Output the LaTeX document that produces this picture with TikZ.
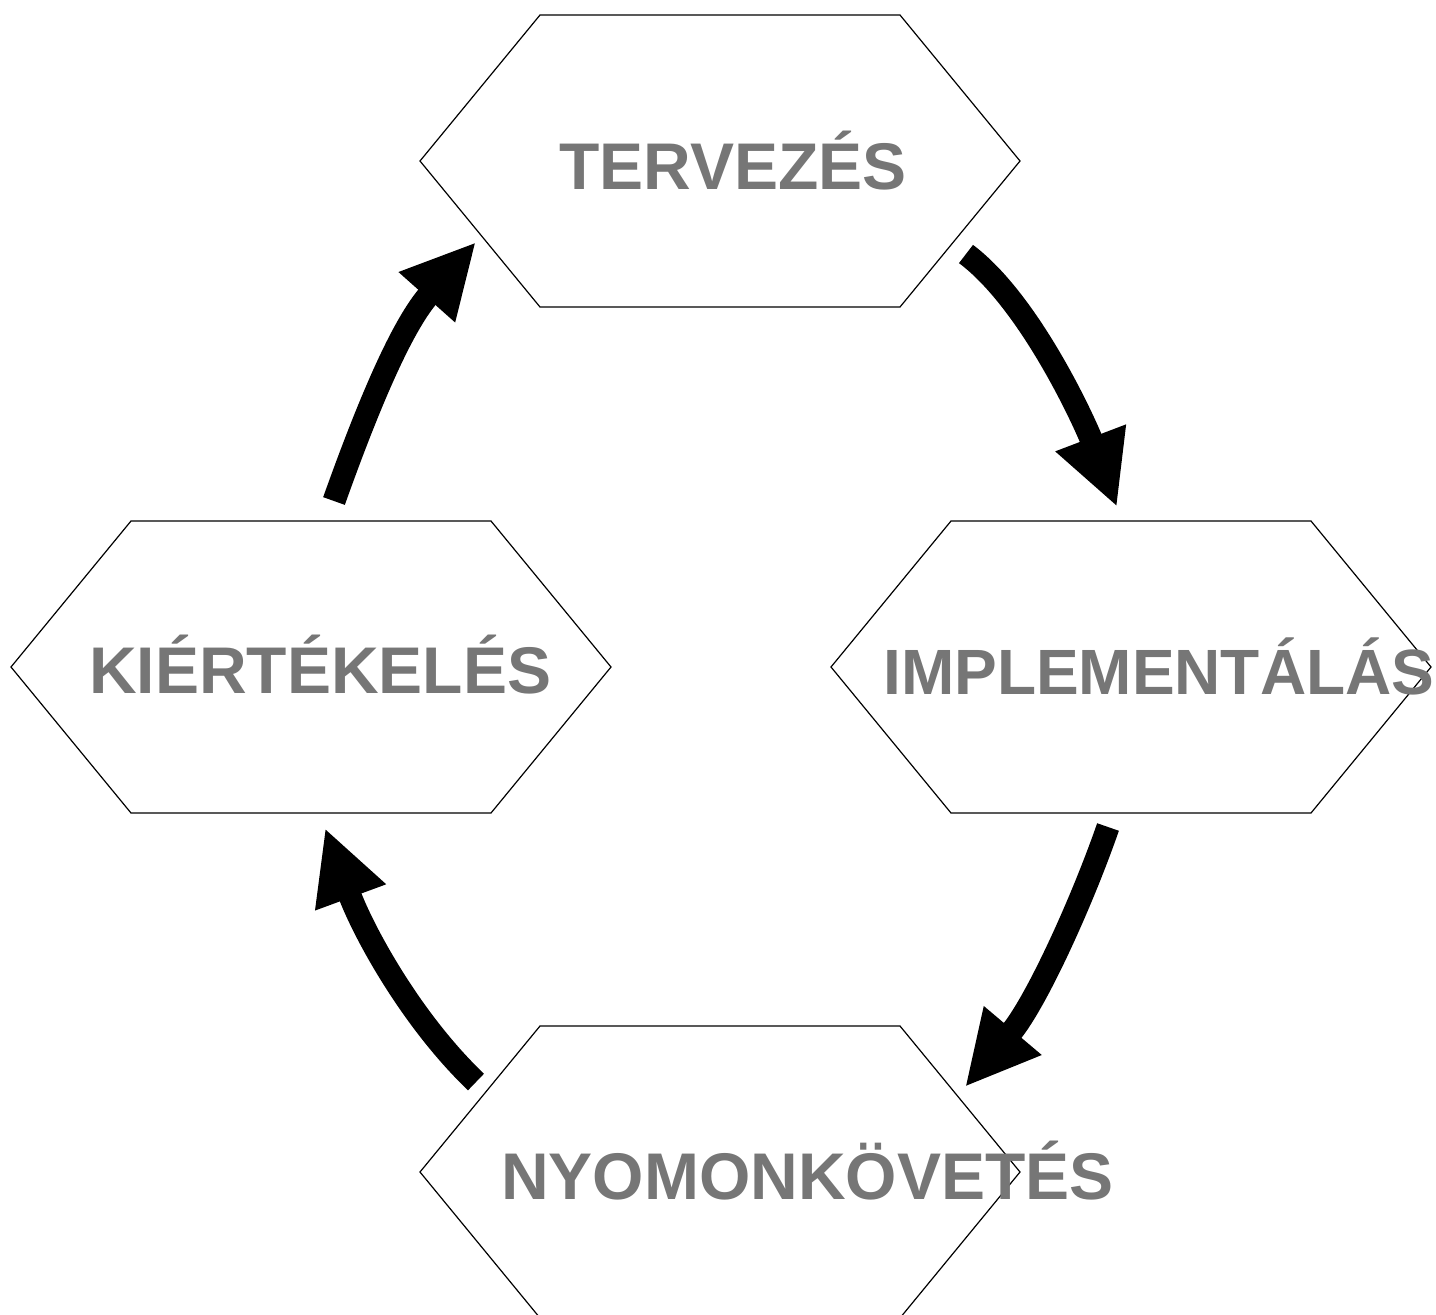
\documentclass[tikz,border=0pt]{standalone}
\usepackage{fontspec}
\setmainfont{Liberation Sans}
\usepackage{tikz}
\usetikzlibrary{arrows.meta}
\definecolor{labelgray}{RGB}{118,118,118}

\tikzset{
  hexline/.style = {draw=black, line width=1.2pt},
  phase/.style = {anchor=base west, inner sep=0pt, text=labelgray, font=\fontsize{66pt}{79pt}\selectfont\bfseries},
  cyclearrow/.style = {line width=23pt, draw=black, -{Triangle[length=74pt, width=70pt]}}
}

\begin{document}
\begin{tikzpicture}
\useasboundingbox (0pt,0pt) rectangle (1436pt,-1315pt);
\begin{scope}
\clip (0pt,0pt) rectangle (1436pt,-1315pt);
% hexagons
\foreach \name/\cx/\cy in {terv/720/161, impl/1131/667, nyom/720/1172, kiert/311/667}
  {\draw[hexline] (\cx pt-300pt,-\cy pt) -- ++(120pt,146pt) -- ++(360pt,0pt) -- ++(120pt,-146pt) -- ++(-120pt,-146pt) -- ++(-360pt,0pt) -- cycle ;
   \coordinate (\name) at (\cx pt,-\cy pt) ;}
\end{scope}
% labels
\node[phase] (lterv) at (559pt,-189pt) {TERVEZÉS} ;
\node[phase, font=\fontsize{64pt}{77pt}\selectfont\bfseries] (limpl) at (883pt,-694pt) {IMPLEMENTÁLÁS} ;
\node[phase] (lnyom) at (501pt,-1199pt) {NYOMONKÖVETÉS} ;
\node[phase] (lkiert) at (89pt,-693pt) {KIÉRTÉKELÉS} ;
% arrow ends
\coordinate (tervout) at (966pt,-254pt) ;
\coordinate (implin) at (1117pt,-507pt) ;
\coordinate (implout) at (1108pt,-827pt) ;
\coordinate (nyomin) at (965pt,-1087pt) ;
\coordinate (nyomout) at (476pt,-1082pt) ;
\coordinate (kiertin) at (325pt,-828pt) ;
\coordinate (kiertout) at (334pt,-501pt) ;
\coordinate (tervin) at (476pt,-242pt) ;
\draw[cyclearrow] (tervout) .. controls (1030pt,-302pt) and (1085pt,-423pt) .. (implin) ;
\draw[cyclearrow] (implout) .. controls (1082pt,-902pt) and (1036pt,-1003pt) .. (nyomin) ;
\draw[cyclearrow] (nyomout) .. controls (411pt,-1020pt) and (363pt,-931pt) .. (kiertin) ;
\draw[cyclearrow] (kiertout) .. controls (370pt,-400pt) and (403pt,-324pt) .. (tervin) ;
\end{tikzpicture}
\end{document}
